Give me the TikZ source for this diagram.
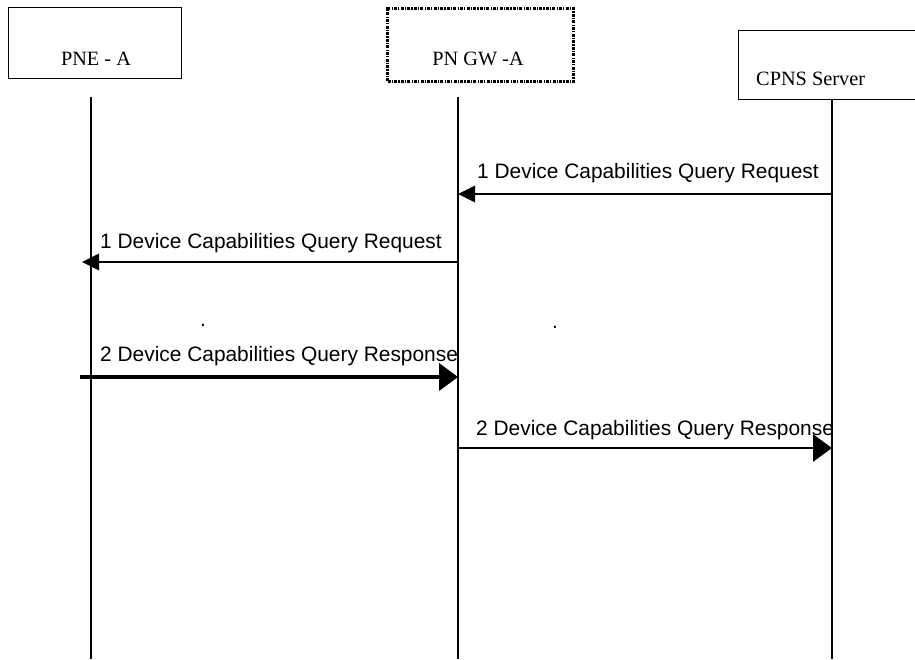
\documentclass[tikz,border=0pt]{standalone}
\usepackage{fontspec}
\setmainfont{Liberation Serif}
\newfontfamily\msgfont{Liberation Sans}
\usetikzlibrary{arrows.meta}
\begin{document}
\begin{tikzpicture}[x=1pt,y=-1pt,
  entity/.style={draw,line width=1pt,inner sep=0pt},
  entlbl/.style={inner sep=0pt,font=\fontsize{20.3}{24}\selectfont},
  life/.style={line width=2.2pt},
  msg/.style={line width=2.8pt},
  msglbl/.style={font=\msgfont\fontsize{20.9}{24}\selectfont,inner sep=0pt,anchor=base west},
  smallhead/.style={-{Triangle[length=17pt,width=16pt]}},
  bighead/.style={-{Triangle[length=19pt,width=27pt]}}
]
\useasboundingbox (0,0) rectangle (915,659);
% entity boxes
\node[entity,minimum width=173pt,minimum height=71pt,anchor=north west] (pne) at (8,7) {};
\node[entlbl,anchor=base] (pnet) at (96,65) {PNE - A};
\node[draw,line width=3pt,dash pattern=on 3pt off 1.2pt on 1.2pt off 1.2pt,minimum width=186pt,minimum height=73pt,anchor=north west,inner sep=0pt] (gw) at (386,7) {};
\node[entlbl,anchor=base] (gwt) at (478,65) {PN GW -A};
\node[entity,minimum width=185pt,minimum height=69pt,anchor=north west] (cpns) at (738,30) {};
\node[entlbl,anchor=base west] (cpnst) at (756,85) {CPNS Server};
% lifelines
\coordinate (pneT) at (91,97);  \coordinate (pneB) at (91,659);
\coordinate (gwT) at (458,97);  \coordinate (gwB) at (458,659);
\coordinate (cpT) at (832,99);  \coordinate (cpB) at (832,659);
\draw[life] (pneT) -- (pneB);
\draw[life] (gwT) -- (gwB);
\draw[life] (cpT) -- (cpB);
% message 1
\coordinate (m1s) at (832,194); \coordinate (m1e) at (458,194);
\draw[msg,smallhead] (m1s) -- (m1e);
\node[msglbl] (l1) at (477,178) {1 Device Capabilities Query Request};
% message 2
\coordinate (m2s) at (458,262); \coordinate (m2e) at (82,262);
\draw[msg,smallhead] (m2s) -- (m2e);
\node[msglbl] (l2) at (100,248) {1 Device Capabilities Query Request};
% dots
\node[msglbl,anchor=center] (d1) at (203,325) {.};
\node[msglbl,anchor=center] (d2) at (555,327) {.};
% message 3
\coordinate (m3s) at (80,377); \coordinate (m3e) at (458,377);
\draw[line width=4pt,bighead] (m3s) -- (m3e);
\node[msglbl] (l3) at (100,361) {2 Device Capabilities Query Response};
% message 4
\coordinate (m4s) at (458,448); \coordinate (m4e) at (832,448);
\draw[msg,bighead] (m4s) -- (m4e);
\node[msglbl] (l4) at (476,435) {2 Device Capabilities Query Response};
\end{tikzpicture}
\end{document}
